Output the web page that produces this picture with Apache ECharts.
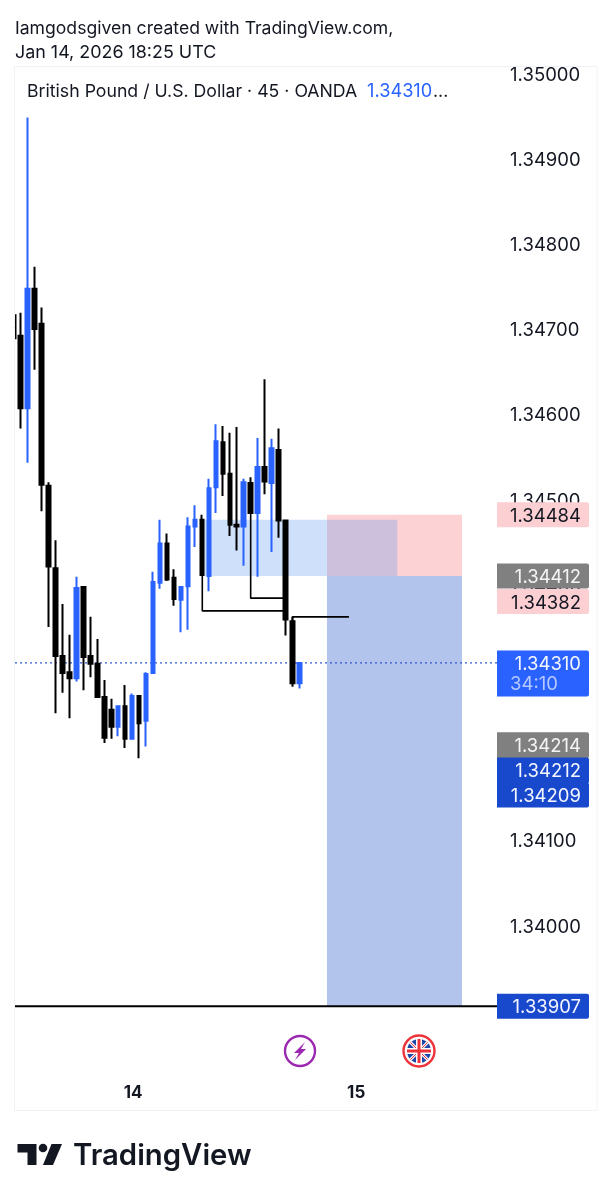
<!DOCTYPE html>
<html><head><meta charset="utf-8">
<style>html,body{margin:0;padding:0;background:#fff}#c{width:611px;height:1200px}</style>
<script src="https://cdn.jsdelivr.net/npm/echarts@6/dist/echarts.min.js"></script>
</head><body><div id="c"></div>
<script>
const opens =[1.34718,1.34694,1.34609,1.34749,1.34708,1.34518,1.34421,1.34318,1.34299,1.34292,1.34399,1.34318,1.34309,1.34270,1.34255,1.34235,1.34259,1.34221,1.34271,1.34242,1.34298,1.34404,1.34450,1.34410,1.34384,1.34400,1.34470,1.34478,1.34412,1.34516,1.34569,1.34532,1.34472,1.34470,1.34521,1.34486,1.34540,1.34521,1.34560,1.34477,1.34359,1.34286];
const closes=[1.34691,1.34609,1.34749,1.34702,1.34519,1.34423,1.34318,1.34298,1.34292,1.34398,1.34317,1.34309,1.34270,1.34222,1.34235,1.34259,1.34221,1.34271,1.34239,1.34297,1.34405,1.34450,1.34408,1.34385,1.34399,1.34470,1.34478,1.34413,1.34515,1.34570,1.34532,1.34472,1.34470,1.34522,1.34486,1.34540,1.34523,1.34562,1.34477,1.34361,1.34286,1.34310];
const lows  =[1.34691,1.34585,1.34545,1.34654,1.34488,1.34352,1.34251,1.34275,1.34245,1.34288,1.34278,1.34293,1.34270,1.34216,1.34221,1.34224,1.34210,1.34220,1.34198,1.34212,1.34297,1.34397,1.34406,1.34377,1.34346,1.34349,1.34446,1.34413,1.34394,1.34486,1.34506,1.34459,1.34442,1.34424,1.34486,1.34411,1.34508,1.34440,1.34457,1.34342,1.34282,1.34280];
const highs =[1.34718,1.34721,1.34950,1.34775,1.34727,1.34522,1.34454,1.34379,1.34343,1.34411,1.34400,1.34364,1.34338,1.34290,1.34268,1.34260,1.34284,1.34274,1.34272,1.34299,1.34417,1.34478,1.34462,1.34420,1.34400,1.34481,1.34495,1.34484,1.34526,1.34590,1.34588,1.34580,1.34587,1.34526,1.34528,1.34574,1.34643,1.34573,1.34585,1.34477,1.34364,1.34310];
const barCount = 70;
const dayTicks = {17:'14',49:'15'};
const lastPrice = 1.34310;
const targetPrice = 1.33907;
// zones: [barStart, barEnd, priceTop, priceBottom]
const redZone  = [44.95,64.32,1.34484,1.34412];
const blueZone = [44.95,64.32,1.34412,1.33907];
const liquidityZone = [27.06,55.05,1.34478,1.34412];
const legLineA = [[27.06,1.34413],[27.06,1.34371],[39,1.34371]];
const legLineB = [[34,1.34486],[34,1.34386],[39,1.34386]];
const legLineC = [[40,1.34359],[40,1.34364],[48.1,1.34364]];
const tagValues = [1.34484,1.34412,1.34382,1.34310,1.34214,1.34212,1.34209,1.33907];
const tagStyles = [
 {bg:'#fcd0d3',fg:'#131722'},{bg:'#808080',fg:'#f4f4f4'},{bg:'#fcd0d3',fg:'#131722'},
 {bg:'#2962ff',fg:'#f4f6ff',h:46,sub:'34:10'},{bg:'#808080',fg:'#f4f4f4',h:26},
 {bg:'#1848cc',fg:'#f4f6ff',shift:23.5,h:26},{bg:'#1848cc',fg:'#f4f6ff',shift:46},{bg:'#1848cc',fg:'#f4f6ff'}];

const FONT='Inter, "Noto Sans", sans-serif';
const PX_LEFT=10.2, PX_RIGHT=498.1, PX_TOP=75, PX_BOTTOM=1012.2;
const categories=Array.from({length:barCount},(_,i)=>dayTicks[i]||'');
const candle=opens.map((o,i)=>[o,closes[i],lows[i],highs[i]]);

const chart=echarts.init(document.getElementById('c'),null,{renderer:'canvas',width:611,height:1200});

function zoneSeries(name,zone,color,z){
  return {name,type:'custom',xAxisIndex:1,yAxisIndex:0,z,silent:true,data:[zone],
    renderItem(p,api){
      const a=api.coord([api.value(0),api.value(2)]),b=api.coord([api.value(1),api.value(3)]);
      return {type:'rect',shape:{x:a[0],y:a[1],width:b[0]-a[0],height:b[1]-a[1]},style:{fill:color}};
    }};
}
function lineSeries(data,color,z,type,width){
  return {type:'line',xAxisIndex:1,yAxisIndex:0,z,silent:true,symbol:'none',animation:false,data,
    lineStyle:{color,width:width||1.6,type:type||'solid'}};
}

chart.setOption({
  animation:false,
  backgroundColor:'#ffffff',
  grid:{left:PX_LEFT,right:611-PX_RIGHT,top:PX_TOP,bottom:1200-PX_BOTTOM,containLabel:false},
  xAxis:[
   {type:'category',data:categories,boundaryGap:true,position:'bottom',
    axisLine:{show:false},axisTick:{show:false},splitLine:{show:false},
    axisLabel:{interval:(i)=>!!dayTicks[i],margin:72,padding:[0,0,0,2],fontFamily:FONT,fontSize:17,fontWeight:'bold',color:'#131722'}},
   {type:'value',min:-0.5,max:barCount-0.5,show:false}
  ],
  yAxis:[{type:'value',position:'right',min:1.339,max:1.35,interval:0.001,
    axisLine:{show:false},axisTick:{show:false},splitLine:{show:false},
    axisLabel:{margin:12,padding:[5,0,0,0],fontFamily:FONT,fontSize:18.5,color:'#131722',
      formatter:v=>v<1.3395?'':v.toFixed(5)}}],
  series:[
    zoneSeries('red',redZone,'#fcd2d5',1),
    zoneSeries('blue',blueZone,'#b3c4ec',1),
    zoneSeries('liq',liquidityZone,'rgba(95,152,242,0.3)',2),
    lineSeries([[0.19,lastPrice],[69.34,lastPrice]],'#2f55d0',3,[2,3],1.4),
    {type:'candlestick',xAxisIndex:0,yAxisIndex:0,z:4,silent:true,barWidth:4,data:candle,
     itemStyle:{color:'#2962ff',color0:'#000000',borderColor:'#2962ff',borderColor0:'#000000',borderWidth:2}},
    lineSeries(legLineA,'#000',5),lineSeries(legLineB,'#000',5),lineSeries(legLineC,'#000',5),
    lineSeries([[0.19,targetPrice],[69.34,targetPrice]],'#000',5,'solid',1.8),
    {type:'custom',xAxisIndex:1,yAxisIndex:0,z:10,silent:true,clip:false,data:tagValues.map(v=>[0,v]),
     renderItem(p,api){
       const s=tagStyles[p.dataIndex],v=api.value(1),y=api.coord([0,v])[1]+(s.shift||0),h=s.h||25;
       const ch=[{type:'rect',shape:{x:497,y:y-12.5,width:92,height:h,r:[0,2,2,0]},style:{fill:s.bg}},
        {type:'text',style:{x:581,y:y+1.5,text:v.toFixed(5),align:'right',verticalAlign:'middle',fill:s.fg,font:'18.5px '+FONT}}];
       if(s.sub) ch.push({type:'text',style:{x:510,y:y+22,text:s.sub,align:'left',verticalAlign:'middle',fill:'#b4c8ff',font:'18.5px '+FONT}});
       return {type:'group',children:ch};
     }}
  ],
  graphic:[
    {type:'rect',z:50,shape:{x:0,y:60,width:14.5,height:1060},style:{fill:'#fff'}},
    {type:'rect',z:51,shape:{x:14.5,y:66.5,width:582.5,height:1044},style:{fill:'none',stroke:'#f0f2f6',lineWidth:1}},
    {type:'text',z:52,style:{x:15,y:29,text:'Iamgodsgiven created with TradingView.com,',verticalAlign:'middle',fill:'#131722',font:'17.6px '+FONT}},
    {type:'text',z:52,style:{x:15,y:53,text:'Jan 14, 2026 18:25 UTC',verticalAlign:'middle',fill:'#131722',font:'17.9px '+FONT}},
    {type:'text',z:52,style:{x:27,y:92,text:'British Pound / U.S. Dollar · 45 · OANDA',verticalAlign:'middle',fill:'#131722',font:'17.7px '+FONT}},
    {type:'text',z:52,style:{x:367,y:92,text:'1.34310',verticalAlign:'middle',fill:'#2962ff',font:'18.2px '+FONT}},
    {type:'text',z:52,style:{x:433,y:92,text:'...',verticalAlign:'middle',fill:'#131722',font:'17.7px '+FONT}},
    // events
    {type:'circle',z:52,shape:{cx:300,cy:1051,r:15},style:{fill:'#fff',stroke:'#9c27b0',lineWidth:2.4}},
    {type:'polygon',z:53,shape:{points:[[305,1042],[294,1053],[299,1053],[295,1060],[306,1049],[301,1049]]},style:{fill:'#9c27b0'}},
    {type:'circle',z:52,shape:{cx:419,cy:1051,r:15.5},style:{fill:'#fff',stroke:'#ee3239',lineWidth:2.4}},
    {type:'circle',z:53,shape:{cx:419,cy:1051,r:12},style:{fill:'#1f47a8'}},
    {type:'line',z:54,shape:{x1:410.5,y1:1042.5,x2:427.5,y2:1059.5},style:{stroke:'#fff',lineWidth:3}},
    {type:'line',z:54,shape:{x1:427.5,y1:1042.5,x2:410.5,y2:1059.5},style:{stroke:'#fff',lineWidth:3}},
    {type:'line',z:55,shape:{x1:410.5,y1:1042.5,x2:427.5,y2:1059.5},style:{stroke:'#ee3239',lineWidth:1}},
    {type:'line',z:55,shape:{x1:427.5,y1:1042.5,x2:410.5,y2:1059.5},style:{stroke:'#ee3239',lineWidth:1}},
    {type:'line',z:56,shape:{x1:419,y1:1039,x2:419,y2:1063},style:{stroke:'#fff',lineWidth:6}},
    {type:'line',z:56,shape:{x1:407,y1:1051,x2:431,y2:1051},style:{stroke:'#fff',lineWidth:6}},
    {type:'line',z:57,shape:{x1:419,y1:1039,x2:419,y2:1063},style:{stroke:'#ee3239',lineWidth:3}},
    {type:'line',z:57,shape:{x1:407,y1:1051,x2:431,y2:1051},style:{stroke:'#ee3239',lineWidth:3}},
    // logo
    {type:'polygon',z:52,shape:{points:[[17.5,1144],[36.5,1144],[36.5,1165],[27.5,1165],[27.5,1152.5],[17.5,1152.5]]},style:{fill:'#131722'}},
    {type:'circle',z:52,shape:{cx:43,cy:1148,r:4.3},style:{fill:'#131722'}},
    {type:'polygon',z:52,shape:{points:[[51.5,1144],[62,1144],[53,1165],[43,1165]]},style:{fill:'#131722'}},
    {type:'text',z:52,style:{x:73,y:1156,text:'TradingView',verticalAlign:'middle',fill:'#131722',font:'600 29.3px '+FONT}}
  ]
});
</script></body></html>
